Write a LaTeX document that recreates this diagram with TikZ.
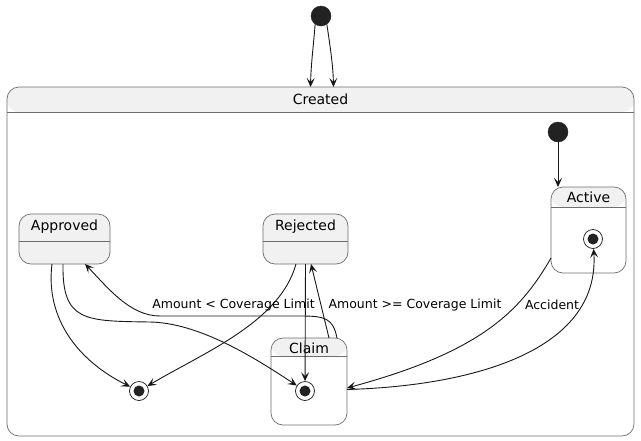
\documentclass[tikz,border=0pt]{standalone}
\usepackage{fontspec}
\setmainfont{DejaVu Sans}
\usetikzlibrary{arrows.meta}
\definecolor{hdr}{HTML}{F1F1F1}
\definecolor{bordercol}{HTML}{6E6E6E}
\definecolor{ink}{HTML}{181818}
\definecolor{dot}{HTML}{222222}
\tikzset{
  statebox/.style={draw=bordercol, line width=0.7pt, rounded corners=12pt, fill=white,
    inner sep=0pt, outer sep=0pt,
    path picture={
      \fill[hdr] (path picture bounding box.north west) rectangle ([yshift=#1]path picture bounding box.north east);
      \draw[bordercol, line width=0.7pt] ([yshift=#1]path picture bounding box.north west) -- ([yshift=#1]path picture bounding box.north east);
    }},
  simplebox/.style={draw=bordercol, line width=0.7pt, rounded corners=12pt, fill=hdr,
    inner sep=0pt, outer sep=0pt,
    path picture={
      \draw[bordercol, line width=0.7pt] ([yshift=#1]path picture bounding box.north west) -- ([yshift=#1]path picture bounding box.north east);
    }},
  statename/.style={font=\fontsize{14pt}{16pt}\selectfont, text=black, inner sep=0pt},
  edgelabel/.style={font=\fontsize{12.5pt}{15pt}\selectfont, text=black, inner sep=0pt},
  initstate/.style={circle, fill=dot, draw=dot, minimum size=20pt, inner sep=0pt},
  finalstate/.style={circle, draw=ink, line width=0.7pt, fill=white, minimum size=19pt, inner sep=0pt,
    path picture={\fill[dot] (path picture bounding box.center) circle (5.5pt);}},
  conn/.style={draw=ink, line width=0.9pt, -{Stealth[length=9pt,width=8pt,inset=4pt]}},
}
\begin{document}
\begin{tikzpicture}[x=1pt,y=-1pt]
\useasboundingbox (0,0) rectangle (641,440);
% composite state Created
\node[statebox=-25pt, minimum width=627pt, minimum height=349pt] (created) at (320.5,261.5) {};
\node[statename] (createdt) at (320.5,99.5) {Created};
% inner states
\node[statebox=-20pt, minimum width=75pt, minimum height=86pt] (active) at (588.5,230) {};
\node[statename] (activet) at (588.5,197) {Active};
\node[simplebox=-27pt, minimum width=91pt, minimum height=50pt] (approved) at (64.5,239) {};
\node[statename] (approvedt) at (64.5,227) {Approved};
\node[simplebox=-27pt, minimum width=85pt, minimum height=50pt] (rejected) at (305.5,239) {};
\node[statename] (rejectedt) at (305.5,227) {Rejected};
\node[statebox=-18pt, minimum width=76pt, minimum height=87pt] (claim) at (309,381.5) {};
\node[statename] (claimt) at (309,348) {Claim};
% pseudo states
\node[initstate] (init) at (321,16) {};
\node[initstate] (init2) at (558,132) {};
\node[finalstate] (activefinal) at (593,239) {};
\node[finalstate] (claimfinal) at (305,391) {};
\node[finalstate] (endfinal) at (139,391) {};
% connectors
\draw[conn] (init.235) .. controls (313,50) and (311,65) .. ([xshift=-10pt]created.north);
\draw[conn] (init.305) .. controls (330,45) and (333,65) .. ([xshift=13pt]created.north);
\draw[conn] (init2) -- ([xshift=-30.5pt]active.north);
\draw[conn] ([xshift=-12.5pt]approved.south) .. controls (45,320) and (80,362) .. (endfinal);
\draw[conn] ([xshift=-1.5pt]approved.south) .. controls (62,322) and (85,321) .. (150,322) .. controls (200,323) and (255,358) .. (claimfinal);
\draw[conn] ([xshift=28pt]claim.north) .. controls (333,318) and (325,316) .. (300,316) -- (160,316) .. controls (130,316) and (108,288) .. ([xshift=20.5pt]approved.south);
\draw[conn] ([xshift=-9.5pt]rejected.south) .. controls (280,322) and (205,352) .. (endfinal);
\draw[conn] (rejected.south) -- (claimfinal);
\draw[conn] ([xshift=20pt]claim.north) -- ([xshift=5.5pt]rejected.south);
\draw[conn] ([yshift=-28pt]active.west) .. controls (520,312) and (480,352) .. ([yshift=-6.5pt]claim.east);
\draw[conn] ([yshift=-8pt]claim.east) .. controls (470,386) and (600,352) .. (activefinal);
% labels
\node[edgelabel] (lab1) at (233.5,305) {Amount < Coverage Limit};
\node[edgelabel] (lab2) at (415,305) {Amount >= Coverage Limit};
\node[edgelabel] (lab3) at (552,305) {Accident};
\end{tikzpicture}
\end{document}
